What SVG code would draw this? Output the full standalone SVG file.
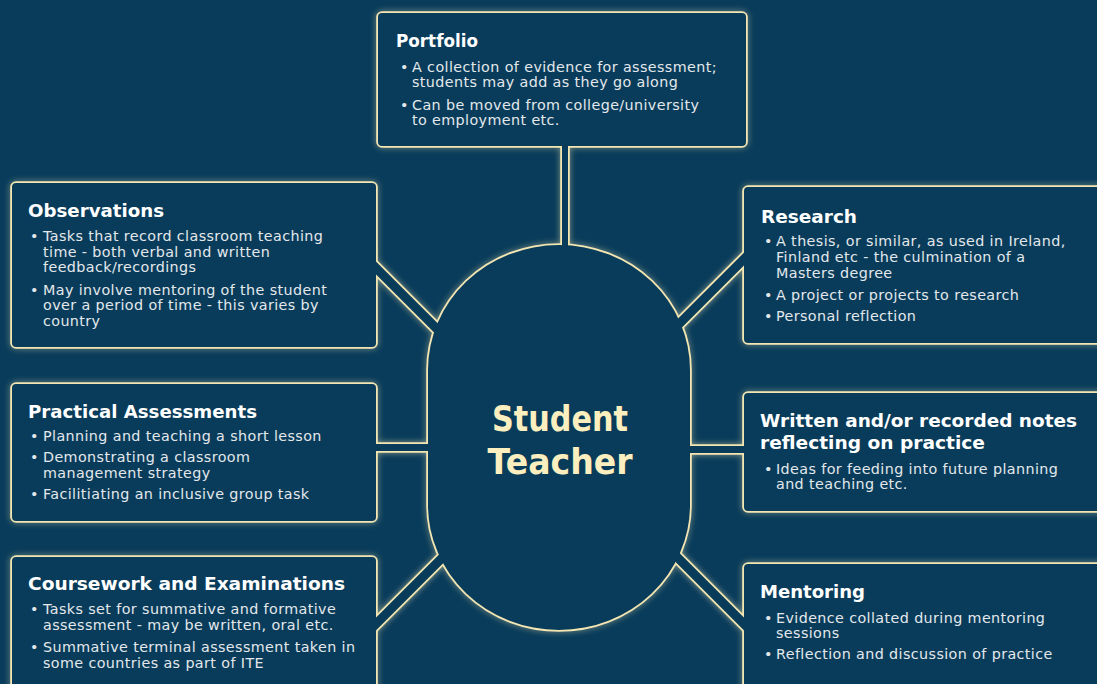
<svg xmlns="http://www.w3.org/2000/svg" xmlns:xlink="http://www.w3.org/1999/xlink" width="1097" height="684" viewBox="0 0 1097 684">
  <style>
    .edge { fill: none; stroke: #f3e6b2; stroke-width: 3.6; }
    .fill { fill: #093c5a; stroke: none; }
    .pipe-edge { stroke: #f3e6b2; stroke-linecap: butt; }
    .pipe-core { stroke: #093c5a; stroke-linecap: butt; }
    .head { font-family: "DejaVu Sans", "Liberation Sans", sans-serif; font-weight: bold; font-size: 18.5px; fill: #ffffff; }
    .body { font-family: "DejaVu Sans", "Liberation Sans", sans-serif; font-size: 14.3px; letter-spacing: 0.4px; fill: #e3e8ec; }
    .hub-title { font-family: "DejaVu Sans", "Liberation Sans", sans-serif; font-weight: bold; font-size: 35px; fill: #fcefbf; text-anchor: middle; }
  </style>
  <defs>
    <filter id="glow" x="-10%" y="-10%" width="120%" height="120%">
      <feGaussianBlur in="SourceGraphic" stdDeviation="3" result="blur"/>
      <feComponentTransfer in="blur" result="soft">
        <feFuncA type="linear" slope="0.55"/>
      </feComponentTransfer>
      <feMerge>
        <feMergeNode in="soft"/>
        <feMergeNode in="SourceGraphic"/>
      </feMerge>
    </filter>
    <rect id="shape-portfolio" x="378" y="13" width="368" height="133" rx="4"/>
    <rect id="shape-observations" x="12" y="183" width="364" height="164" rx="4"/>
    <rect id="shape-research" x="744" y="187" width="362" height="156" rx="4"/>
    <rect id="shape-practical" x="12" y="384" width="364" height="137" rx="4"/>
    <rect id="shape-notes" x="744" y="393" width="362" height="118" rx="4"/>
    <rect id="shape-coursework" x="12" y="557" width="364" height="140" rx="4"/>
    <rect id="shape-mentoring" x="744" y="564" width="362" height="140" rx="4"/>
    <path id="shape-hub" d="M 428,370 A 131 125 0 0 1 690,370 L 690,505 A 131 125 0 0 1 428,505 Z"/>
  </defs>

  <rect width="1097" height="684" fill="#093c5a"/>

  <!-- outlines of every shape and pipe, with a soft halo -->
  <g id="frames" filter="url(#glow)">
    <use xlink:href="#shape-portfolio" class="edge"/>
    <use xlink:href="#shape-observations" class="edge"/>
    <use xlink:href="#shape-research" class="edge"/>
    <use xlink:href="#shape-practical" class="edge"/>
    <use xlink:href="#shape-notes" class="edge"/>
    <use xlink:href="#shape-coursework" class="edge"/>
    <use xlink:href="#shape-mentoring" class="edge"/>
    <use xlink:href="#shape-hub" class="edge"/>
    <g class="pipe-edge">
      <line x1="565" y1="140" x2="565" y2="260" stroke-width="9.6"/>
      <line x1="370" y1="262" x2="450" y2="342" stroke-width="12.6"/>
      <line x1="750" y1="253" x2="670" y2="333" stroke-width="12.6"/>
      <line x1="370" y1="447.5" x2="440" y2="447.5" stroke-width="10.6"/>
      <line x1="680" y1="449.5" x2="750" y2="449.5" stroke-width="10.6"/>
      <line x1="370" y1="630" x2="450" y2="550" stroke-width="12.6"/>
      <line x1="750" y1="630" x2="670" y2="550" stroke-width="12.6"/>
    </g>
  </g>

  <!-- pipe interiors joining each box to the hub -->
  <g id="connectors" class="pipe-core">
    <line x1="565" y1="140" x2="565" y2="260" stroke-width="6"/>
    <line x1="370" y1="262" x2="450" y2="342" stroke-width="9"/>
    <line x1="750" y1="253" x2="670" y2="333" stroke-width="9"/>
    <line x1="370" y1="447.5" x2="440" y2="447.5" stroke-width="7"/>
    <line x1="680" y1="449.5" x2="750" y2="449.5" stroke-width="7"/>
    <line x1="370" y1="630" x2="450" y2="550" stroke-width="9"/>
    <line x1="750" y1="630" x2="670" y2="550" stroke-width="9"/>
  </g>

  <g id="node-hub">
    <use xlink:href="#shape-hub" class="fill"/>
    <text class="hub-title" x="560" y="431" textLength="136" lengthAdjust="spacingAndGlyphs">Student</text>
    <text class="hub-title" x="560" y="474" textLength="145" lengthAdjust="spacingAndGlyphs">Teacher</text>
  </g>

  <g id="node-portfolio">
    <use xlink:href="#shape-portfolio" class="fill"/>
    <text class="head" x="396" y="47" textLength="82" lengthAdjust="spacingAndGlyphs">Portfolio</text>
    <text class="body" x="400" y="72">•</text>
    <text class="body" x="412" y="72">A collection of evidence for assessment;</text>
    <text class="body" x="412" y="87">students may add as they go along</text>
    <text class="body" x="400" y="110">•</text>
    <text class="body" x="412" y="110">Can be moved from college/university</text>
    <text class="body" x="412" y="125">to employment etc.</text>
  </g>

  <g id="node-observations">
    <use xlink:href="#shape-observations" class="fill"/>
    <text class="head" x="28" y="217" textLength="136" lengthAdjust="spacingAndGlyphs">Observations</text>
    <text class="body" x="30" y="241">•</text>
    <text class="body" x="43" y="241">Tasks that record classroom teaching</text>
    <text class="body" x="43" y="257">time - both verbal and written</text>
    <text class="body" x="43" y="272">feedback/recordings</text>
    <text class="body" x="30" y="295">•</text>
    <text class="body" x="43" y="295">May involve mentoring of the student</text>
    <text class="body" x="43" y="310">over a period of time - this varies by</text>
    <text class="body" x="43" y="326">country</text>
  </g>

  <g id="node-research">
    <use xlink:href="#shape-research" class="fill"/>
    <text class="head" x="761" y="223" textLength="96" lengthAdjust="spacingAndGlyphs">Research</text>
    <text class="body" x="764" y="246">•</text>
    <text class="body" x="776" y="246">A thesis, or similar, as used in Ireland,</text>
    <text class="body" x="776" y="262">Finland etc - the culmination of a</text>
    <text class="body" x="776" y="278">Masters degree</text>
    <text class="body" x="764" y="300">•</text>
    <text class="body" x="776" y="300">A project or projects to research</text>
    <text class="body" x="764" y="321">•</text>
    <text class="body" x="776" y="321">Personal reflection</text>
  </g>

  <g id="node-practical">
    <use xlink:href="#shape-practical" class="fill"/>
    <text class="head" x="28" y="418" textLength="229" lengthAdjust="spacingAndGlyphs">Practical Assessments</text>
    <text class="body" x="30" y="441">•</text>
    <text class="body" x="43" y="441">Planning and teaching a short lesson</text>
    <text class="body" x="30" y="462">•</text>
    <text class="body" x="43" y="462">Demonstrating a classroom</text>
    <text class="body" x="43" y="478">management strategy</text>
    <text class="body" x="30" y="499">•</text>
    <text class="body" x="43" y="499">Facilitiating an inclusive group task</text>
  </g>

  <g id="node-notes">
    <use xlink:href="#shape-notes" class="fill"/>
    <text class="head" x="760" y="427" textLength="317" lengthAdjust="spacingAndGlyphs">Written and/or recorded notes</text>
    <text class="head" x="760" y="449" textLength="225" lengthAdjust="spacingAndGlyphs">reflecting on practice</text>
    <text class="body" x="764" y="474">•</text>
    <text class="body" x="776" y="474">Ideas for feeding into future planning</text>
    <text class="body" x="776" y="489">and teaching etc.</text>
  </g>

  <g id="node-coursework">
    <use xlink:href="#shape-coursework" class="fill"/>
    <text class="head" x="28" y="590" textLength="317" lengthAdjust="spacingAndGlyphs">Coursework and Examinations</text>
    <text class="body" x="30" y="614">•</text>
    <text class="body" x="43" y="614">Tasks set for summative and formative</text>
    <text class="body" x="43" y="630">assessment - may be written, oral etc.</text>
    <text class="body" x="30" y="652">•</text>
    <text class="body" x="43" y="652">Summative terminal assessment taken in</text>
    <text class="body" x="43" y="668">some countries as part of ITE</text>
  </g>

  <g id="node-mentoring">
    <use xlink:href="#shape-mentoring" class="fill"/>
    <text class="head" x="760" y="598" textLength="105" lengthAdjust="spacingAndGlyphs">Mentoring</text>
    <text class="body" x="764" y="623">•</text>
    <text class="body" x="776" y="623">Evidence collated during mentoring</text>
    <text class="body" x="776" y="638">sessions</text>
    <text class="body" x="764" y="659">•</text>
    <text class="body" x="776" y="659">Reflection and discussion of practice</text>
  </g>
</svg>
